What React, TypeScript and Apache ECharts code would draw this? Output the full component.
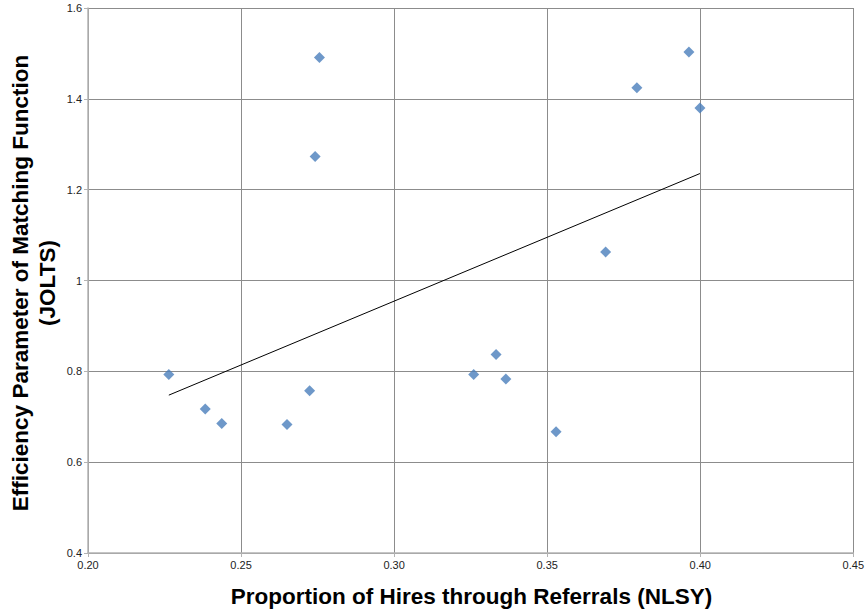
import React, { useEffect, useRef } from "react";
import * as echarts from "echarts";

const referralShare = [0.2264, 0.2383, 0.2437, 0.265, 0.2724, 0.2742, 0.2756, 0.326, 0.3333, 0.3365, 0.3529, 0.3691, 0.3793, 0.3963, 0.3999];
const efficiency = [0.793, 0.717, 0.685, 0.683, 0.757, 1.273, 1.491, 0.793, 0.837, 0.783, 0.667, 1.063, 1.4245, 1.503, 1.38];
const xTitle = "Proportion of Hires through Referrals (NLSY)";
const yTitle = "Efficiency Parameter of Matching Function\n(JOLTS)";

function trend(xs: number[], ys: number[]) {
  const n = xs.length;
  const mx = xs.reduce((a, b) => a + b, 0) / n;
  const my = ys.reduce((a, b) => a + b, 0) / n;
  let sxy = 0, sxx = 0;
  for (let i = 0; i < n; i++) {
    sxy += (xs[i] - mx) * (ys[i] - my);
    sxx += (xs[i] - mx) * (xs[i] - mx);
  }
  const b = sxy / sxx;
  const a = my - b * mx;
  const x0 = Math.min(...xs), x1 = Math.max(...xs);
  return [[x0, a + b * x0], [x1, a + b * x1]];
}

export default function App() {
  const ref = useRef<HTMLDivElement>(null);
  useEffect(() => {
    if (!ref.current) return;
    const chart = echarts.init(ref.current, undefined, { renderer: "svg" });
    const font = "Liberation Sans";
    chart.setOption({
      animation: false,
      backgroundColor: "#ffffff",
      grid: { left: 88, right: 12, top: 8, bottom: 62, containLabel: false },
      xAxis: {
        type: "value",
        min: 0.2,
        max: 0.45,
        interval: 0.05,
        axisLine: { show: true, onZero: false, lineStyle: { color: "#b3b3b3", width: 1.5 } },
        axisTick: { show: true, inside: false, length: 4, lineStyle: { color: "#b3b3b3" } },
        axisLabel: { fontFamily: font, fontSize: 11, color: "#222", margin: 6, formatter: (v: number) => v.toFixed(2) },
        splitLine: { show: true, lineStyle: { color: "#8c8c8c", width: 1 } },
      },
      yAxis: {
        type: "value",
        min: 0.4,
        max: 1.6,
        interval: 0.2,
        axisLine: { show: true, onZero: false, lineStyle: { color: "#b3b3b3", width: 1.5 } },
        axisTick: { show: true, inside: false, length: 4, lineStyle: { color: "#b3b3b3" } },
        axisLabel: { fontFamily: font, fontSize: 11, color: "#222", margin: 6, formatter: (v: number) => String(Math.round(v * 10) / 10) },
        splitLine: { show: true, lineStyle: { color: "#8c8c8c", width: 1 } },
      },
      graphic: [
        {
          type: "text",
          x: 471.5,
          y: 596,
          style: { text: xTitle, font: `bold 22.5px "${font}"`, fill: "#000", align: "center", verticalAlign: "middle" },
        },
        {
          type: "text",
          x: 33.5,
          y: 283,
          rotation: Math.PI / 2,
          style: { text: yTitle, font: `bold 22.5px "${font}"`, fill: "#000", align: "center", verticalAlign: "middle", lineHeight: 27 },
        },
      ],
      series: [
        {
          type: "scatter",
          symbol: "diamond",
          symbolSize: 11,
          itemStyle: { color: "#4A7EBB" },
          data: referralShare.map((x, i) => [x, efficiency[i]]),
          z: 3,
        },
        {
          type: "line",
          data: trend(referralShare, efficiency),
          symbol: "none",
          lineStyle: { color: "#000", width: 1 },
          z: 2,
        },
      ],
    });
    return () => chart.dispose();
  }, []);
  return <div ref={ref} style={{ width: 867, height: 615, position: "absolute", left: 0, top: 0 }} />;
}
